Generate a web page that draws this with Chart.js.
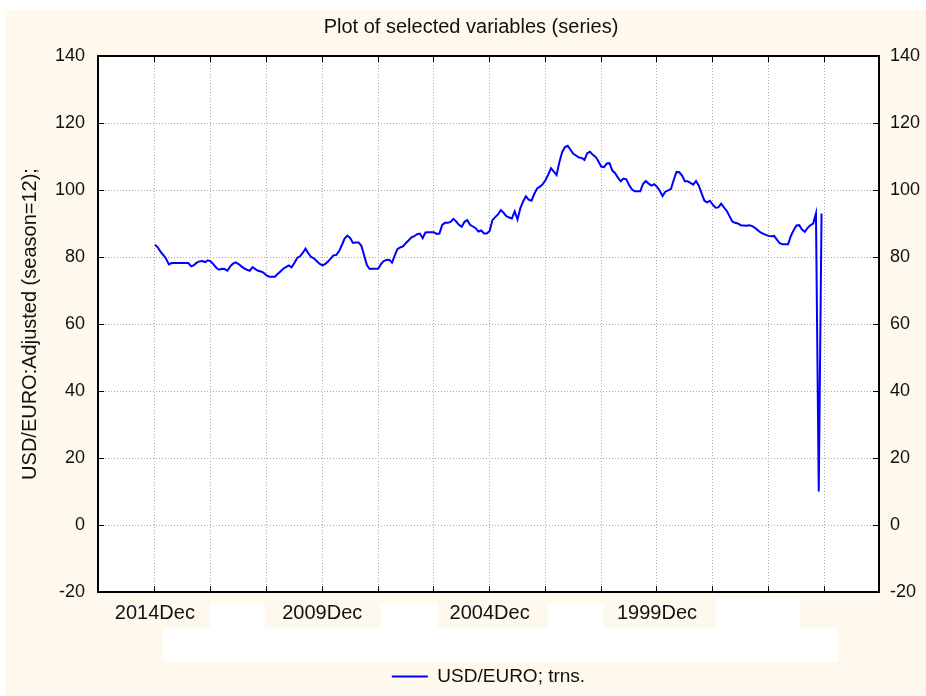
<!DOCTYPE html>
<html>
<head>
<meta charset="utf-8">
<script src="https://cdn.jsdelivr.net/npm/chart.js@4/dist/chart.umd.min.js"></script>
<style>
  html, body { margin: 0; padding: 0; background: #fff; }
</style>
</head>
<body>
<canvas id="myChart" width="926" height="696"></canvas>
<script>
// case number of the first observation (2014Dec), series runs back in time
const firstCase = 20

// USD/EURO seasonally adjusted, one value per month
const usdEuro = [
  83.7, 82.9, 81.6, 80.6, 79.5, 77.8, 78.2, 78.2, 78.2, 78.2, 78.2, 78.2,
  78.2, 77.2, 77.6, 78.3, 78.7, 78.8, 78.5, 79.0, 78.7, 77.8, 76.8, 76.2,
  76.5, 76.4, 75.9, 77.2, 78.0, 78.4, 77.9, 77.2, 76.6, 76.2, 75.9, 77.0,
  76.4, 75.9, 75.7, 75.3, 74.5, 74.1, 74.1, 74.1, 74.9, 75.7, 76.5, 77.0,
  77.5, 76.9, 78.2, 79.7, 80.2, 81.2, 82.5, 81.1, 80.0, 79.6, 78.8, 78.0,
  77.5, 77.9, 78.6, 79.5, 80.5, 80.6, 81.7, 83.5, 85.5, 86.4, 85.7, 84.2,
  84.3, 84.3, 83.4, 80.5, 77.6, 76.4, 76.5, 76.5, 76.5, 77.8, 78.8, 79.1,
  79.2, 78.3, 80.5, 82.4, 82.9, 83.2, 84.2, 85.0, 85.9, 86.2, 86.8, 87.0,
  85.6, 87.3, 87.4, 87.4, 87.4, 86.9, 87.0, 89.6, 90.2, 90.2, 90.5, 91.4,
  90.6, 89.6, 89.0, 90.5, 91.0, 89.6, 89.1, 88.6, 87.6, 87.9, 87.0, 87.0,
  87.8, 91.0, 91.9, 92.7, 94.0, 93.2, 92.2, 91.8, 91.5, 93.6, 91.2, 94.5,
  96.6, 98.1, 97.1, 96.8, 98.8, 100.4, 101.0, 101.7, 102.9, 104.5, 106.5, 105.5,
  104.5, 108.3, 111.3, 112.8, 113.2, 112.0, 110.8, 110.3, 109.7, 109.6, 109.0, 111.0,
  111.4, 110.5, 109.9, 108.6, 107.0, 106.8, 107.9, 108.0, 105.8, 105.0, 103.7, 102.6,
  103.4, 103.2, 101.5, 100.2, 99.6, 99.6, 99.6, 101.8, 102.7, 101.9, 101.3, 101.7,
  101.0, 99.8, 98.2, 99.5, 99.9, 100.3, 103.0, 105.4, 105.3, 104.3, 102.6, 102.6,
  102.1, 101.6, 102.7, 101.3, 99.0, 96.8, 96.3, 96.8, 95.6, 94.7, 94.8, 95.9,
  94.8, 93.8, 92.2, 90.6, 90.2, 90.0, 89.5, 89.4, 89.3, 89.5, 89.3, 88.8,
  88.1, 87.4, 87.0, 86.6, 86.3, 86.2, 86.3, 85.2, 84.1, 83.8, 83.8, 83.8,
  86.3, 88.0, 89.4, 89.5, 88.2, 87.5, 88.7, 89.5, 90.0, 93.0, 10.0, 93.0
]

// x axis: grid every 20 cases, labels only on some of them
const xTickCases = [20, 40, 60, 80, 100, 120, 140, 160, 180, 200, 220, 240, 260]
const xLabelCases = [20, 80, 140, 200]
const xLabels = ['2014Dec', '2009Dec', '2004Dec', '1999Dec']

const seriesName = 'USD/EURO; trns.'
const yTitle = 'USD/EURO:Adjusted (season=12);'
const chartTitle = 'Plot of selected variables (series)'

const FONT = "'Liberation Sans', Arial, sans-serif"
const TEXT = '#111'
const CREAM = '#fef9ec'

const points = usdEuro.map((v, i) => ({ x: firstCase + i, y: v }))

const setXTicks = (scale) => {
    scale.ticks = xTickCases.map(v => ({ value: v }))
}

const gridStyle = (onArea) => ({
    drawOnChartArea: onArea,
    color: '#a9a9a9',
    lineWidth: 1,
    tickLength: -6,
    tickColor: '#000',
    tickWidth: 1
})
const borderStyle = { color: '#000', width: 2, dash: [1, 2] }

// page background, white plot area, blank label boxes
const background = {
    id: 'background',
    beforeDraw(chart) {
        const ctx = chart.ctx
        const a = chart.chartArea
        ctx.save()
        ctx.fillStyle = '#fff'
        ctx.fillRect(0, 0, chart.width, chart.height)
        ctx.fillStyle = CREAM
        ctx.fillRect(5, 10, chart.width - 5, chart.height - 10)
        ctx.fillStyle = '#fff'
        ctx.fillRect(a.left, a.top, a.right - a.left, a.bottom - a.top)
        const boxes = [[210, 603, 55, 25], [381, 603, 57, 25], [548, 603, 55, 25], [716, 598, 84, 30], [163, 628, 675, 34]]
        boxes.forEach(b => ctx.fillRect(b[0], b[1], b[2], b[3]))
        ctx.restore()
    }
}

new Chart(document.getElementById('myChart'), {
    type: 'line',
    data: {
        datasets: [{
            label: seriesName,
            data: points,
            borderColor: '#0000ff',
            backgroundColor: '#0000ff',
            borderWidth: 2,
            pointRadius: 0,
            tension: 0,
            fill: false
        }]
    },
    options: {
        responsive: false,
        animation: false,
        events: [],
        layout: { padding: { left: 16, right: 0, top: 0, bottom: 0 } },
        plugins: {
            title: {
                display: true,
                text: chartTitle,
                color: TEXT,
                font: { family: FONT, size: 20, weight: 'normal' },
                padding: { top: 15, bottom: 17 }
            },
            legend: {
                position: 'bottom',
                fullSize: false,
                labels: {
                    usePointStyle: true,
                    pointStyle: 'line',
                    pointStyleWidth: 36,
                    color: TEXT,
                    font: { family: FONT, size: 19 },
                    padding: 10
                }
            },
            tooltip: { enabled: false }
        },
        scales: {
            x: {
                type: 'linear',
                position: 'bottom',
                min: -0.4,
                max: 279.6,
                afterBuildTicks: setXTicks,
                afterFit: (s) => { s.height = 65 },
                grid: gridStyle(true),
                border: borderStyle,
                ticks: {
                    autoSkip: false,
                    maxRotation: 0,
                    padding: 15,
                    color: TEXT,
                    font: { family: FONT, size: 20 },
                    callback: (v) => {
                        const k = xLabelCases.indexOf(v)
                        return k >= 0 ? xLabels[k] : ''
                    }
                }
            },
            x2: {
                type: 'linear',
                position: 'top',
                min: -0.4,
                max: 279.6,
                afterBuildTicks: setXTicks,
                afterFit: (s) => { s.height = 0 },
                grid: gridStyle(false),
                border: borderStyle,
                ticks: { display: false }
            },
            y: {
                type: 'linear',
                position: 'left',
                min: -20,
                max: 140,
                afterFit: (s) => { s.width = 82 },
                grid: gridStyle(true),
                border: borderStyle,
                ticks: { stepSize: 20, padding: 19, color: TEXT, font: { family: FONT, size: 18 } },
                title: {
                    display: true,
                    text: yTitle,
                    color: TEXT,
                    font: { family: FONT, size: 20 },
                    padding: { top: 2, bottom: 0 }
                }
            },
            y2: {
                type: 'linear',
                position: 'right',
                min: -20,
                max: 140,
                afterFit: (s) => { s.width = 47 },
                grid: gridStyle(false),
                border: borderStyle,
                ticks: { stepSize: 20, padding: 17, color: TEXT, font: { family: FONT, size: 18 } }
            }
        }
    },
    plugins: [background]
})
</script>
</body>
</html>
